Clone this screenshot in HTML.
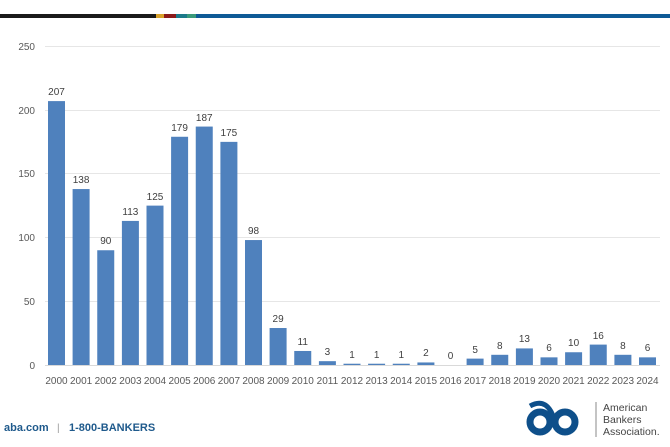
<!DOCTYPE html>
<html><head><meta charset="utf-8"><style>
html,body{margin:0;padding:0;background:#fff;width:670px;height:447px;overflow:hidden}
svg{display:block;font-family:"Liberation Sans",sans-serif}
</style></head><body>
<svg width="670" height="447" viewBox="0 0 670 447">
<rect x="0" y="14" width="156" height="4" fill="#1a1a1a"/>
<rect x="156" y="14" width="8" height="4" fill="#d9a22a"/>
<rect x="164" y="14" width="12" height="4" fill="#8b1a1a"/>
<rect x="176" y="14" width="11" height="4" fill="#1b7a8a"/>
<rect x="187" y="14" width="9" height="4" fill="#3a9a7a"/>
<rect x="196" y="14" width="474" height="4" fill="#0e5a96"/>
<g stroke="#e6e6e6" stroke-width="1">
<line x1="45" x2="660" y1="46.5" y2="46.5"/>
<line x1="45" x2="660" y1="110.5" y2="110.5"/>
<line x1="45" x2="660" y1="173.5" y2="173.5"/>
<line x1="45" x2="660" y1="237.5" y2="237.5"/>
<line x1="45" x2="660" y1="301.5" y2="301.5"/>
</g>
<line x1="45" x2="660" y1="365.5" y2="365.5" stroke="#d9d9d9"/>
<g font-size="10" fill="#595959" text-anchor="end">
<text x="35" y="50">250</text><text x="35" y="114">200</text><text x="35" y="177">150</text>
<text x="35" y="241">100</text><text x="35" y="305">50</text><text x="35" y="369">0</text>
</g>
<g fill="#4f81bd">
<rect x="48" y="101.1" width="17" height="263.9"/>
<rect x="72.6" y="189.05" width="17" height="175.95"/>
<rect x="97.25" y="250.25" width="17" height="114.75"/>
<rect x="121.9" y="220.92" width="17" height="144.08"/>
<rect x="146.5" y="205.62" width="17" height="159.38"/>
<rect x="171.1" y="136.77" width="17" height="228.23"/>
<rect x="195.75" y="126.57" width="17" height="238.43"/>
<rect x="220.4" y="141.87" width="17" height="223.13"/>
<rect x="245" y="240.05" width="17" height="124.95"/>
<rect x="269.6" y="328.02" width="17" height="36.98"/>
<rect x="294.25" y="350.97" width="17" height="14.03"/>
<rect x="318.9" y="361.17" width="17" height="3.83"/>
<rect x="343.5" y="363.72" width="17" height="1.28"/>
<rect x="368.1" y="363.72" width="17" height="1.28"/>
<rect x="392.75" y="363.72" width="17" height="1.28"/>
<rect x="417.4" y="362.45" width="17" height="2.55"/>
<rect x="466.6" y="358.62" width="17" height="6.38"/>
<rect x="491.25" y="354.8" width="17" height="10.2"/>
<rect x="515.9" y="348.42" width="17" height="16.58"/>
<rect x="540.5" y="357.35" width="17" height="7.65"/>
<rect x="565.1" y="352.25" width="17" height="12.75"/>
<rect x="589.75" y="344.6" width="17" height="20.4"/>
<rect x="614.4" y="354.8" width="17" height="10.2"/>
<rect x="639" y="357.35" width="17" height="7.65"/>
</g>
<g font-size="10" fill="#404040" text-anchor="middle">
<text x="56.5" y="95">207</text>
<text x="81.1" y="183">138</text>
<text x="105.75" y="244">90</text>
<text x="130.4" y="215">113</text>
<text x="155" y="200">125</text>
<text x="179.6" y="131">179</text>
<text x="204.25" y="121">187</text>
<text x="228.9" y="136">175</text>
<text x="253.5" y="234">98</text>
<text x="278.1" y="322">29</text>
<text x="302.75" y="345">11</text>
<text x="327.4" y="355">3</text>
<text x="352" y="358">1</text>
<text x="376.6" y="358">1</text>
<text x="401.25" y="358">1</text>
<text x="425.9" y="356">2</text>
<text x="450.5" y="359">0</text>
<text x="475.1" y="353">5</text>
<text x="499.75" y="349">8</text>
<text x="524.4" y="342">13</text>
<text x="549" y="351">6</text>
<text x="573.6" y="346">10</text>
<text x="598.25" y="339">16</text>
<text x="622.9" y="349">8</text>
<text x="647.5" y="351">6</text>
</g>
<g font-size="10" fill="#595959" text-anchor="middle">
<text x="56.5" y="384">2000</text><text x="81.1" y="384">2001</text><text x="105.75" y="384">2002</text>
<text x="130.4" y="384">2003</text><text x="155" y="384">2004</text><text x="179.6" y="384">2005</text>
<text x="204.25" y="384">2006</text><text x="228.9" y="384">2007</text><text x="253.5" y="384">2008</text>
<text x="278.1" y="384">2009</text><text x="302.75" y="384">2010</text><text x="327.4" y="384">2011</text>
<text x="352" y="384">2012</text><text x="376.6" y="384">2013</text><text x="401.25" y="384">2014</text>
<text x="425.9" y="384">2015</text><text x="450.5" y="384">2016</text><text x="475.1" y="384">2017</text>
<text x="499.75" y="384">2018</text><text x="524.4" y="384">2019</text><text x="549" y="384">2020</text>
<text x="573.6" y="384">2021</text><text x="598.25" y="384">2022</text><text x="622.9" y="384">2023</text>
<text x="647.5" y="384">2024</text>
</g>
<text x="4" y="431" font-size="11" font-weight="bold" fill="#1f5a8c">aba.com</text>
<text x="57" y="431" font-size="10" fill="#999">|</text>
<text x="69" y="431" font-size="11" font-weight="bold" fill="#1f5a8c">1-800-BANKERS</text>
<g fill="none" stroke="#0e4f8a" stroke-width="7">
<ellipse cx="540" cy="422" rx="10" ry="10"/>
<ellipse cx="565" cy="422" rx="10" ry="10"/>
<path d="M530 406 Q548 396 555 422" stroke-width="5"/>
</g>
<line x1="596" y1="402" x2="596" y2="437" stroke="#888"/>
<g font-size="10.5" fill="#444">
<text x="603" y="411">American</text><text x="603" y="423">Bankers</text><text x="603" y="435">Association.</text>
</g>
</svg>
</body></html>
